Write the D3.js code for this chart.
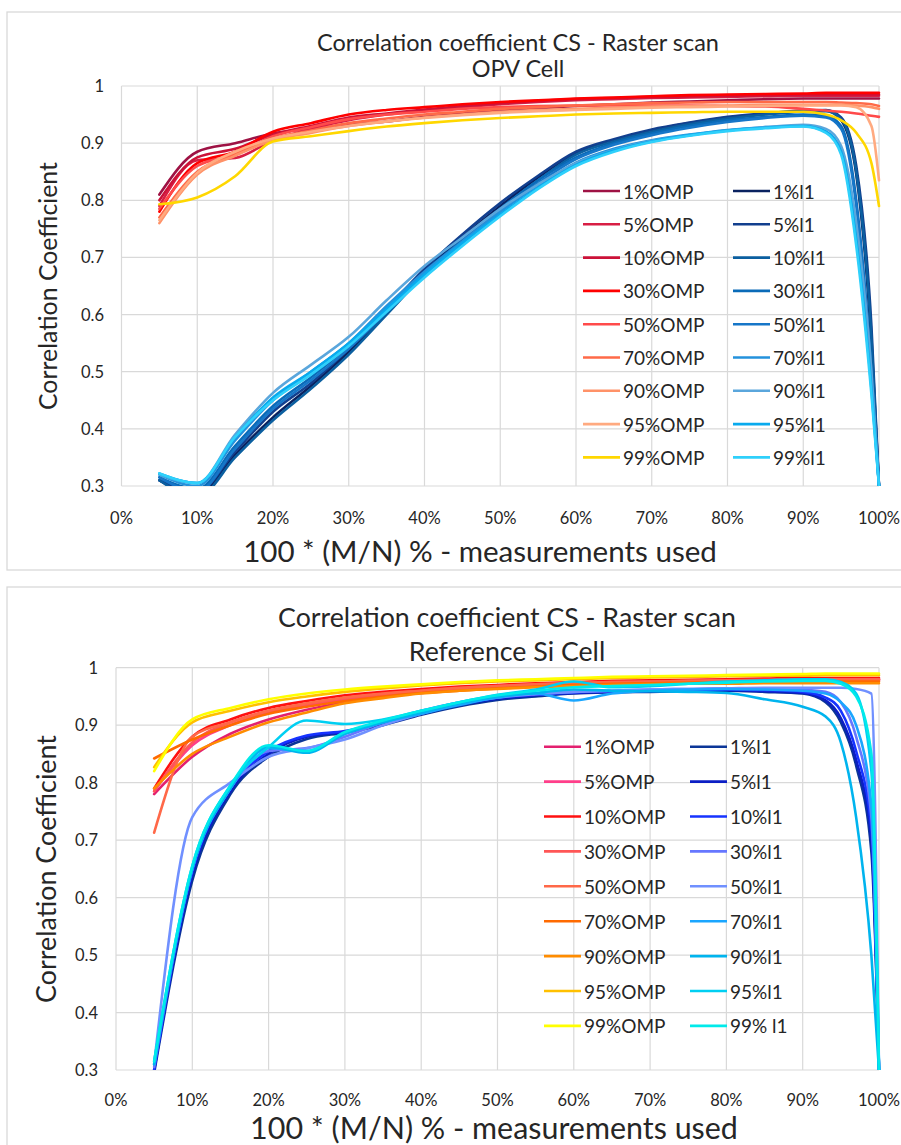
<!DOCTYPE html>
<html>
<head>
<meta charset="utf-8">
<script src="https://cdn.jsdelivr.net/npm/d3@7"></script>
<style>
  html, body { margin: 0; padding: 0; background: #fff; }
  svg { display: block; }
  text { font-family: Lato, "Open Sans", sans-serif; fill: #262626; }
</style>
</head>
<body>
<svg id="fig" width="901" height="1145"></svg>
<script>
// ---- data -------------------------------------------------------------
// percentage of measurements used (x positions of samples)
const pctUsed = [5,10,15,20,25,30,35,40,45,50,55,60,65,70,75,80,85,90,93,95,97,99,100];

const xTicks = [0,10,20,30,40,50,60,70,80,90,100];
const yTicks = [0.3,0.4,0.5,0.6,0.7,0.8,0.9,1];

const ompLabels = ["1%OMP","5%OMP","10%OMP","30%OMP","50%OMP","70%OMP","90%OMP","95%OMP","99%OMP"];
const opvL1Labels = ["1%l1","5%l1","10%l1","30%l1","50%l1","70%l1","90%l1","95%l1","99%l1"];
const siL1Labels = ["1%l1","5%l1","10%l1","30%l1","50%l1","70%l1","90%l1","95%l1","99% l1"];

// OPV cell, OMP reconstruction
const opvOmp = [
  [0.81,0.885,0.900,0.917,0.925,0.932,0.938,0.946,0.952,0.957,0.961,0.965,0.968,0.971,0.973,0.975,0.977,0.978,0.978,0.978,0.978,0.978,0.978],
  [0.79,0.870,0.874,0.905,0.925,0.940,0.950,0.957,0.963,0.968,0.972,0.975,0.977,0.979,0.980,0.981,0.982,0.983,0.983,0.983,0.983,0.983,0.983],
  [0.80,0.875,0.890,0.915,0.930,0.945,0.952,0.959,0.965,0.970,0.974,0.977,0.979,0.981,0.982,0.983,0.984,0.985,0.985,0.985,0.985,0.985,0.985],
  [0.78,0.865,0.885,0.920,0.935,0.950,0.958,0.963,0.968,0.972,0.975,0.978,0.980,0.982,0.984,0.985,0.986,0.987,0.988,0.988,0.988,0.988,0.988],
  [0.785,0.860,0.880,0.912,0.928,0.942,0.950,0.955,0.960,0.963,0.965,0.966,0.966,0.966,0.966,0.965,0.964,0.960,0.957,0.955,0.952,0.948,0.946],
  [0.77,0.850,0.882,0.908,0.922,0.935,0.943,0.950,0.955,0.960,0.963,0.966,0.968,0.970,0.971,0.972,0.972,0.972,0.972,0.971,0.970,0.968,0.965],
  [0.76,0.845,0.878,0.905,0.918,0.930,0.938,0.945,0.950,0.955,0.958,0.960,0.962,0.964,0.965,0.966,0.967,0.967,0.967,0.967,0.966,0.963,0.960],
  [0.765,0.848,0.885,0.908,0.920,0.930,0.938,0.944,0.949,0.953,0.956,0.958,0.960,0.962,0.963,0.964,0.965,0.966,0.966,0.966,0.963,0.930,0.835],
  [0.793,0.805,0.842,0.903,0.912,0.921,0.929,0.935,0.940,0.944,0.947,0.950,0.952,0.953,0.954,0.955,0.955,0.955,0.950,0.940,0.918,0.865,0.790]
];

// OPV cell, l1 reconstruction
const opvL1 = [
  [0.31,0.285,0.355,0.420,0.475,0.535,0.605,0.675,0.735,0.790,0.840,0.883,0.905,0.922,0.935,0.945,0.951,0.956,0.957,0.940,0.845,0.550,0.30],
  [0.31,0.290,0.360,0.430,0.480,0.540,0.610,0.680,0.740,0.795,0.843,0.885,0.907,0.924,0.936,0.946,0.952,0.957,0.958,0.945,0.860,0.580,0.30],
  [0.31,0.280,0.350,0.415,0.470,0.530,0.600,0.670,0.730,0.785,0.835,0.880,0.903,0.920,0.933,0.943,0.950,0.955,0.956,0.942,0.850,0.560,0.30],
  [0.315,0.295,0.370,0.440,0.490,0.545,0.610,0.675,0.730,0.785,0.835,0.875,0.900,0.917,0.930,0.940,0.946,0.950,0.948,0.930,0.800,0.500,0.30],
  [0.315,0.290,0.365,0.435,0.485,0.540,0.605,0.670,0.725,0.780,0.830,0.872,0.897,0.914,0.927,0.937,0.944,0.948,0.945,0.925,0.790,0.500,0.30],
  [0.32,0.300,0.380,0.450,0.500,0.550,0.615,0.675,0.728,0.780,0.826,0.866,0.890,0.905,0.915,0.923,0.928,0.930,0.920,0.885,0.740,0.480,0.30],
  [0.32,0.305,0.390,0.463,0.512,0.561,0.625,0.685,0.735,0.785,0.828,0.865,0.888,0.904,0.914,0.922,0.928,0.932,0.925,0.895,0.760,0.500,0.30],
  [0.322,0.305,0.385,0.455,0.500,0.550,0.610,0.670,0.725,0.775,0.822,0.862,0.887,0.903,0.914,0.922,0.927,0.930,0.920,0.885,0.730,0.470,0.30],
  [0.322,0.305,0.386,0.450,0.495,0.545,0.605,0.665,0.720,0.772,0.820,0.860,0.885,0.902,0.913,0.921,0.926,0.929,0.918,0.880,0.720,0.460,0.30]
];

// Reference Si cell, OMP reconstruction
const siOmp = [
  [0.78,0.845,0.885,0.910,0.927,0.940,0.950,0.956,0.961,0.965,0.968,0.970,0.972,0.974,0.975,0.976,0.977,0.978,0.978,0.978,0.978,0.978,0.978],
  [0.785,0.865,0.900,0.922,0.935,0.945,0.952,0.958,0.963,0.967,0.970,0.972,0.974,0.976,0.977,0.978,0.979,0.980,0.980,0.980,0.980,0.980,0.980],
  [0.79,0.880,0.910,0.930,0.942,0.952,0.958,0.963,0.967,0.970,0.973,0.975,0.977,0.978,0.979,0.980,0.981,0.982,0.982,0.982,0.982,0.982,0.982],
  [0.785,0.870,0.905,0.925,0.937,0.947,0.954,0.960,0.964,0.968,0.971,0.973,0.975,0.976,0.977,0.978,0.979,0.980,0.980,0.980,0.980,0.980,0.980],
  [0.713,0.880,0.905,0.925,0.938,0.948,0.955,0.960,0.965,0.968,0.971,0.973,0.975,0.976,0.977,0.978,0.978,0.979,0.979,0.979,0.979,0.979,0.979],
  [0.842,0.875,0.900,0.920,0.932,0.942,0.950,0.956,0.960,0.964,0.967,0.970,0.972,0.973,0.974,0.975,0.976,0.976,0.976,0.976,0.976,0.976,0.976],
  [0.79,0.850,0.880,0.905,0.922,0.938,0.947,0.955,0.960,0.963,0.966,0.968,0.970,0.971,0.972,0.972,0.973,0.973,0.973,0.973,0.973,0.973,0.973],
  [0.827,0.905,0.925,0.940,0.950,0.958,0.964,0.969,0.973,0.976,0.978,0.980,0.982,0.983,0.984,0.985,0.986,0.986,0.987,0.987,0.987,0.987,0.987],
  [0.82,0.910,0.930,0.945,0.955,0.962,0.967,0.971,0.975,0.978,0.980,0.982,0.984,0.985,0.986,0.987,0.988,0.989,0.990,0.990,0.990,0.990,0.990]
];

// Reference Si cell, l1 reconstruction
const siL1 = [
  [0.295,0.630,0.780,0.845,0.876,0.887,0.900,0.918,0.933,0.944,0.950,0.955,0.957,0.958,0.959,0.960,0.958,0.955,0.940,0.905,0.830,0.680,0.30],
  [0.30,0.640,0.785,0.850,0.880,0.888,0.902,0.920,0.935,0.946,0.952,0.956,0.958,0.959,0.960,0.961,0.959,0.956,0.943,0.912,0.840,0.700,0.30],
  [0.30,0.645,0.790,0.855,0.882,0.890,0.905,0.922,0.937,0.948,0.953,0.957,0.959,0.960,0.961,0.962,0.961,0.958,0.948,0.925,0.855,0.720,0.30],
  [0.305,0.650,0.790,0.855,0.860,0.880,0.905,0.925,0.940,0.950,0.955,0.958,0.960,0.962,0.963,0.964,0.964,0.962,0.958,0.940,0.880,0.740,0.30],
  [0.31,0.740,0.800,0.845,0.860,0.875,0.900,0.920,0.937,0.948,0.954,0.958,0.960,0.962,0.963,0.964,0.965,0.965,0.965,0.965,0.963,0.955,0.30],
  [0.31,0.650,0.790,0.860,0.855,0.885,0.905,0.920,0.935,0.948,0.955,0.943,0.955,0.960,0.962,0.963,0.962,0.960,0.955,0.940,0.900,0.760,0.30],
  [0.31,0.650,0.790,0.862,0.852,0.885,0.905,0.922,0.938,0.950,0.956,0.962,0.960,0.959,0.958,0.956,0.945,0.932,0.915,0.870,0.740,0.500,0.30],
  [0.315,0.655,0.795,0.862,0.908,0.902,0.910,0.925,0.940,0.953,0.962,0.976,0.966,0.968,0.972,0.976,0.978,0.980,0.980,0.975,0.955,0.820,0.30],
  [0.315,0.655,0.795,0.865,0.855,0.888,0.908,0.925,0.940,0.952,0.960,0.966,0.968,0.970,0.972,0.974,0.976,0.977,0.977,0.972,0.950,0.850,0.30]
];

// ---- palettes -----------------------------------------------------------
const opvOmpColors = ["#9e1244","#d81e44","#cc1238","#ff0000","#ff4a4a","#ff6a48","#ff9268","#ffaa80","#ffd700"];
const opvL1Colors  = ["#0a2260","#123f8e","#0b5fa0","#0a6bb8","#1676c8","#2492dc","#5aa6dc","#08aaee","#2fd0fb"];
const siOmpColors  = ["#e3206f","#ff3f8a","#ff1010","#ff5656","#ff6848","#ff6a00","#ff8c00","#ffc000","#ffff00"];
const siL1Colors   = ["#0b3597","#0b1ec4","#1633ff","#6677ff","#7090ff","#1aa6ff","#00b4ee","#00cff2","#00eaea"];

// ---- layout -------------------------------------------------------------
const svg = d3.select("#fig");

const charts = [
  {
    id: "opv",
    panel: {x: 7, y: 12, h: 558},
    plot: {left: 121.5, right: 879, top: 86, bottom: 486},
    title: ["Correlation coefficient CS - Raster scan", "OPV Cell"],
    titleY: [42, 68], titleW: 402, titleCx: 518,
    yLabel: {cx: 47, cy: 286, w: 248},
    xLabel: {cx: 480, cy: 550, w: 474},
    yTickRight: 104, xTickY: 518,
    legend: {rowY: 191, rowStep: 33.3, col1: 583, col2: 733, lineLen: 37},
    omp: opvOmp, l1: opvL1, ompColors: opvOmpColors, l1Colors: opvL1Colors, l1Labels: opvL1Labels
  },
  {
    id: "si",
    panel: {x: 7, y: 587, h: 600},
    plot: {left: 116, right: 879, top: 667.7, bottom: 1070},
    title: ["Correlation coefficient CS - Raster scan", "Reference Si Cell"],
    titleY: [617, 651], titleW: 458, titleCx: 507,
    yLabel: {cx: 45, cy: 869, w: 268},
    xLabel: {cx: 494, cy: 1127, w: 488},
    yTickRight: 98, xTickY: 1100,
    legend: {rowY: 746.7, rowStep: 34.9, col1: 544, col2: 690, lineLen: 37},
    omp: siOmp, l1: siL1, ompColors: siOmpColors, l1Colors: siL1Colors, l1Labels: siL1Labels
  }
];

// scale a text element's font size so that it spans the given width
function fitWidth(sel, width) {
  const len = sel.node().getComputedTextLength();
  const fs = parseFloat(sel.attr("font-size"));
  sel.attr("font-size", fs * width / len);
  return fs * width / len;
}

// font size that makes a sample string span a width
function sizeFor(sample, width) {
  const t = svg.append("text").attr("font-size", 20).text(sample);
  const fs = fitWidth(t, width);
  t.remove();
  return fs;
}

const tickFont = 16.5;
const legendFont = sizeFor("10%OMP", 81.5);

charts.forEach(c => {
  const g = svg.append("g").attr("class", "chart-" + c.id);

  // outer chart frame
  g.append("rect")
    .attr("x", c.panel.x).attr("y", c.panel.y)
    .attr("width", 960).attr("height", c.panel.h)
    .attr("fill", "none").attr("stroke", "#d9d9d9").attr("stroke-width", 1.3);

  const x = d3.scaleLinear().domain([0, 100]).range([c.plot.left, c.plot.right]);
  const y = d3.scaleLinear().domain([0.3, 1]).range([c.plot.bottom, c.plot.top]);

  // gridlines
  const grid = g.append("g").attr("stroke", "#d9d9d9").attr("stroke-width", 1.2);
  grid.selectAll("line.v").data(xTicks).join("line").attr("class", "v")
    .attr("x1", d => x(d)).attr("x2", d => x(d))
    .attr("y1", c.plot.top).attr("y2", c.plot.bottom);
  grid.selectAll("line.h").data(yTicks).join("line").attr("class", "h")
    .attr("x1", c.plot.left).attr("x2", c.plot.right)
    .attr("y1", d => y(d)).attr("y2", d => y(d));

  // tick labels
  g.append("g").selectAll("text").data(yTicks).join("text")
    .attr("x", c.yTickRight).attr("y", d => y(d))
    .attr("text-anchor", "end").attr("dominant-baseline", "central")
    .attr("font-size", tickFont).attr("fill", "#333")
    .text(d => d === 1 ? "1" : d.toFixed(1));
  g.append("g").selectAll("text").data(xTicks).join("text")
    .attr("x", d => x(d)).attr("y", c.xTickY)
    .attr("text-anchor", "middle").attr("dominant-baseline", "central")
    .attr("font-size", tickFont).attr("fill", "#333")
    .text(d => d + "%");

  // two-line title, both lines in the same size
  const t1 = g.append("text")
    .attr("x", c.titleCx).attr("y", c.titleY[0])
    .attr("text-anchor", "middle").attr("dominant-baseline", "central")
    .attr("font-size", 20).text(c.title[0]);
  const titleFont = fitWidth(t1, c.titleW);
  g.append("text")
    .attr("x", c.titleCx).attr("y", c.titleY[1])
    .attr("text-anchor", "middle").attr("dominant-baseline", "central")
    .attr("font-size", titleFont).text(c.title[1]);

  // axis titles
  const yl = g.append("text")
    .attr("transform", `translate(${c.yLabel.cx},${c.yLabel.cy}) rotate(-90)`)
    .attr("text-anchor", "middle").attr("dominant-baseline", "central")
    .attr("font-size", 20).text("Correlation Coefficient");
  fitWidth(yl, c.yLabel.w);
  const xl = g.append("text")
    .attr("x", c.xLabel.cx).attr("y", c.xLabel.cy)
    .attr("text-anchor", "middle").attr("dominant-baseline", "central")
    .attr("font-size", 20).text("100 * (M/N) % - measurements used");
  fitWidth(xl, c.xLabel.w);

  // series
  const clipId = "clip-" + c.id;
  g.append("clipPath").attr("id", clipId).append("rect")
    .attr("x", c.plot.left - 3).attr("y", c.plot.top - 3)
    .attr("width", c.plot.right - c.plot.left + 5)
    .attr("height", c.plot.bottom - c.plot.top + 3);

  const line = d3.line()
    .x((d, i) => x(pctUsed[i]))
    .y(d => y(d))
    .curve(d3.curveMonotoneX);

  const series = [];
  ompLabels.forEach((lab, i) => {
    series.push({values: c.omp[i], color: c.ompColors[i]});
    series.push({values: c.l1[i], color: c.l1Colors[i]});
  });

  g.append("g").attr("clip-path", `url(#${clipId})`)
    .selectAll("path").data(series).join("path")
    .attr("d", d => line(d.values))
    .attr("fill", "none")
    .attr("stroke", d => d.color)
    .attr("stroke-width", 2.6)
    .attr("stroke-linejoin", "round")
    .attr("stroke-linecap", "round");

  // legend (two columns)
  const lg = g.append("g");
  const cols = [
    {x: c.legend.col1, labels: ompLabels, colors: c.ompColors},
    {x: c.legend.col2, labels: c.l1Labels, colors: c.l1Colors}
  ];
  cols.forEach(col => {
    col.labels.forEach((lab, i) => {
      const yy = c.legend.rowY + i * c.legend.rowStep;
      lg.append("line")
        .attr("x1", col.x).attr("x2", col.x + c.legend.lineLen)
        .attr("y1", yy).attr("y2", yy)
        .attr("stroke", col.colors[i]).attr("stroke-width", 2.6);
      lg.append("text")
        .attr("x", col.x + c.legend.lineLen + 3).attr("y", yy)
        .attr("dominant-baseline", "central")
        .attr("font-size", legendFont)
        .text(lab);
    });
  });
});
</script>
</body>
</html>
